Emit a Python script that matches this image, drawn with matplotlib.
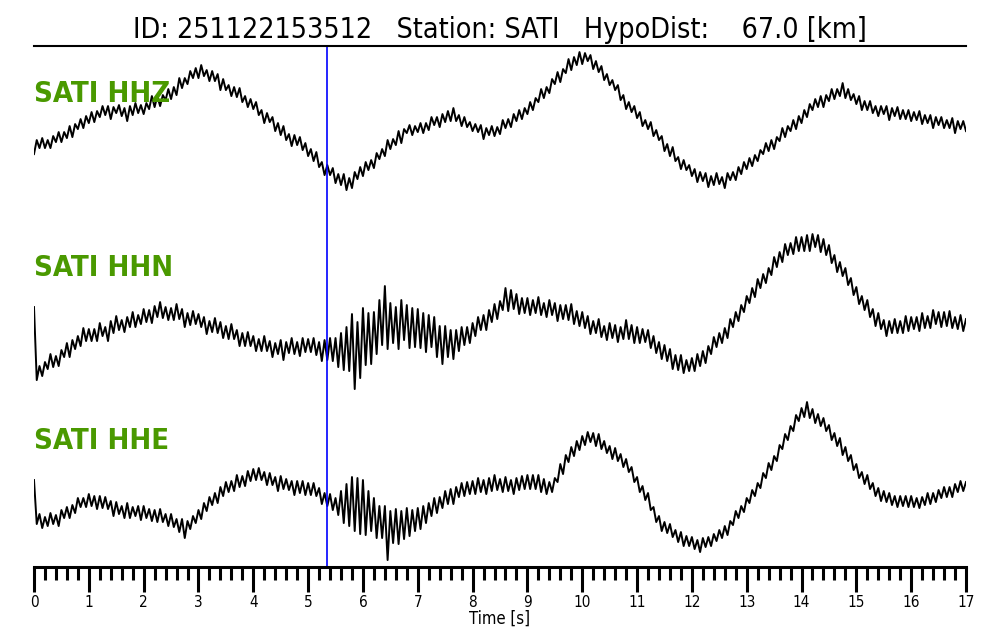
import matplotlib
matplotlib.use("Agg")
import matplotlib.pyplot as plt
import numpy as np
from matplotlib.ticker import MultipleLocator

# event info
event_id = "251122153512"
station = "SATI"
hypodist = 67.0
pick_time = 5.35  # blue marker [s]
dt = 0.05  # read-off sampling [s]

# traces (arbitrary counts, up = positive), one row per second
hhz = [-24, -10, -18, -8, -18, -10, -18, -6, -12, -2, -12, -2, -8, 4, -7, 6, 1, 11, 2, 14,
       7, 18, 8, 19, 13, 24, 15, 24, 11, 23, 17, 25, 14, 22, 9, 24, 15, 27, 17, 25,
       16, 27, 21, 34, 23, 34, 24, 35, 30, 41, 31, 43, 35, 52, 42, 52, 46, 59, 52, 62,
       52, 65, 54, 60, 49, 59, 49, 56, 40, 51, 40, 45, 34, 43, 33, 42, 28, 34, 23, 31,
       21, 28, 15, 20, 7, 17, 8, 13, -1, 7, -5, 4, -10, -4, -16, -5, -15, -7, -20, -13,
       -26, -19, -31, -22, -37, -32, -45, -35, -45, -38, -53, -44, -55, -44, -60, -48, -58, -42, -49, -37,
       -46, -32, -40, -30, -38, -23, -29, -19, -26, -10, -19, -9, -15, -1, -13, 1, -3, 5, -5, 4,
       -2, 7, -3, 7, 0, 13, 5, 13, 3, 16, 8, 19, 9, 22, 9, 15, 4, 13, 3, 8,
       -1, 6, -2, 5, -9, 2, -5, 4, -6, 3, -4, 10, 2, 11, 3, 16, 9, 20, 11, 22,
       16, 28, 20, 32, 28, 41, 32, 43, 37, 51, 46, 58, 48, 61, 57, 71, 60, 73, 65, 78,
       66, 77, 69, 75, 61, 69, 58, 64, 50, 56, 45, 50, 40, 45, 30, 35, 21, 28, 18, 24,
       12, 18, 4, 10, 1, 8, -6, 0, -10, -6, -21, -14, -26, -17, -31, -27, -39, -30, -40, -35,
       -46, -39, -52, -42, -51, -43, -57, -46, -55, -43, -54, -47, -58, -43, -50, -42, -50, -37, -44, -32,
       -39, -28, -36, -25, -31, -20, -24, -13, -21, -10, -19, -7, -11, 2, -7, 4, -1, 10, 1, 14,
       7, 20, 13, 26, 20, 31, 23, 34, 23, 35, 29, 41, 31, 41, 34, 47, 32, 41, 30, 36,
       26, 34, 20, 29, 20, 29, 17, 24, 14, 24, 16, 24, 10, 22, 14, 23, 11, 20, 11, 20,
       9, 18, 10, 19, 6, 15, 7, 15, 2, 13, 5, 13, 2, 10, 2, 12, -3, 9, 1, 9,
       -1]

hhn = [3, -70, -56, -66, -52, -59, -44, -57, -46, -56, -40, -47, -33, -47, -30, -39, -26, -36, -18, -31,
       -19, -31, -19, -31, -13, -26, -17, -31, -11, -23, -6, -20, -10, -22, -7, -17, -2, -17, -5, -14,
       1, -12, 0, -13, 4, -7, 8, -8, 3, -10, 2, -10, 6, -9, 1, -17, -3, -15, -1, -14,
       -4, -17, -7, -24, -11, -22, -8, -23, -12, -28, -16, -29, -14, -29, -20, -36, -23, -36, -22, -36,
       -26, -41, -29, -41, -26, -41, -31, -47, -33, -44, -30, -50, -32, -43, -28, -44, -32, -46, -28, -42,
       -29, -42, -28, -45, -32, -51, -30, -50, -28, -51, -28, -57, -23, -60, -17, -61, -4, -79, -12, -68,
       2, -55, -3, -54, -2, -44, 10, -35, 24, -39, 7, -33, 3, -39, 10, -30, 5, -38, 2, -37,
       1, -38, -3, -42, -5, -37, -7, -47, -16, -54, -16, -47, -20, -49, -20, -41, -17, -35, -17, -33,
       -13, -26, -7, -20, -5, -20, 0, -12, 6, -9, 9, 0, 22, -1, 20, 1, 16, -4, 12, -3,
       12, -5, 10, -3, 13, -5, 7, -7, 10, -5, 7, -11, 5, -9, 5, -10, 6, -14, -1, -16,
       -2, -18, -6, -24, -11, -23, -9, -27, -16, -30, -13, -28, -15, -32, -17, -29, -10, -29, -15, -33,
       -17, -33, -19, -32, -20, -38, -26, -43, -32, -49, -35, -51, -39, -59, -45, -60, -45, -63, -50, -61,
       -48, -61, -44, -56, -41, -53, -36, -44, -27, -37, -23, -33, -18, -28, -9, -17, -2, -11, 5, -2,
       14, 7, 22, 13, 31, 22, 36, 27, 42, 35, 53, 43, 58, 48, 66, 55, 67, 56, 73, 59,
       73, 59, 75, 59, 76, 63, 75, 58, 71, 55, 65, 47, 55, 38, 48, 34, 42, 25, 32, 15,
       23, 6, 14, 0, 10, -7, 1, -16, -3, -19, -10, -26, -11, -23, -9, -23, -11, -23, -6, -21,
       -7, -19, -7, -21, -3, -18, -6, -18, 0, -14, -2, -17, -2, -16, -1, -18, -7, -19, -5, -21,
       -9]

hhe = [5, -39, -29, -43, -32, -41, -28, -39, -30, -41, -25, -33, -22, -33, -20, -28, -13, -22, -13, -22,
       -9, -21, -11, -24, -11, -23, -12, -24, -16, -31, -17, -29, -21, -33, -18, -33, -22, -31, -21, -35,
       -21, -33, -24, -36, -25, -37, -24, -37, -29, -41, -29, -42, -34, -47, -34, -53, -36, -44, -31, -38,
       -25, -34, -18, -26, -12, -20, -8, -18, -2, -11, 3, -7, 4, -6, 10, -2, 9, -1, 14, 4,
       16, 5, 17, 5, 13, 0, 12, 0, 8, -6, 9, -4, 6, -5, 4, -10, 4, -8, 4, -10,
       2, -10, 2, -11, -3, -19, -8, -21, -9, -25, -13, -30, -6, -38, 1, -41, 8, -46, 7, -49,
       5, -50, -6, -46, -13, -53, -21, -53, -21, -75, -26, -58, -24, -59, -26, -54, -23, -51, -25, -46,
       -23, -44, -21, -38, -18, -31, -13, -28, -12, -23, -6, -19, -4, -19, -2, -12, 2, -11, 3, -9,
       4, -9, 7, -7, 5, -9, 7, -6, 10, -5, 6, -7, 8, -6, 5, -9, 7, -5, 9, -4,
       10, -4, 10, -4, 10, -7, 6, -9, 3, -7, 7, 3, 21, 11, 30, 23, 38, 29, 44, 35,
       49, 40, 53, 43, 52, 39, 51, 36, 44, 32, 39, 26, 37, 24, 31, 18, 26, 13, 18, 3,
       8, -7, -1, -15, -8, -25, -22, -37, -31, -46, -37, -48, -39, -52, -45, -57, -47, -61, -51, -61,
       -52, -64, -55, -67, -53, -62, -52, -61, -49, -56, -45, -53, -41, -50, -36, -40, -26, -33, -21, -27,
       -13, -18, -5, -11, 2, -3, 12, 7, 22, 15, 29, 24, 40, 36, 51, 45, 59, 54, 70, 64,
       77, 68, 83, 67, 76, 62, 71, 59, 67, 54, 60, 45, 52, 39, 47, 30, 38, 24, 30, 15,
       21, 7, 13, 1, 10, -4, 2, -11, -3, -16, -6, -17, -8, -20, -11, -22, -11, -21, -11, -22,
       -11, -22, -13, -23, -12, -20, -8, -19, -8, -17, -5, -13, -2, -12, -2, -12, 1, -7, 4, -6,
       3]

channels = ["HHZ", "HHN", "HHE"]
traces = [hhz, hhn, hhe]
offsets = [437, 257, 82]
label_y = [465, 291, 118]

plt.rcParams["font.family"] = "DejaVu Sans"

fig = plt.figure(figsize=(10, 6.4), dpi=100)
ax = fig.add_axes([0.034, 0.114, 0.932, 0.814])

for tr, off, ch, ly in zip(traces, offsets, channels, label_y):
    t = np.arange(len(tr)) * dt
    ax.plot(t, np.array(tr) + off, color="black", lw=1.4)
    ax.text(0, ly, f"{station} {ch}", color="#4a9900", fontsize=21,
            fontweight="bold", fontstretch="condensed", va="baseline", ha="left")

ax.axvline(pick_time, color="blue", lw=1.2)

ax.set_xlim(0, 17)
ax.set_ylim(0, 521)

for s in ["left", "right"]:
    ax.spines[s].set_visible(False)
ax.spines["top"].set_linewidth(1.5)
ax.spines["bottom"].set_linewidth(2.2)
ax.set_yticks([])

ax.xaxis.set_major_locator(MultipleLocator(1))
ax.xaxis.set_minor_locator(MultipleLocator(0.2))
ax.tick_params(axis="x", which="major", length=18, width=2.2, labelsize=11,
               pad=2)
ax.tick_params(axis="x", which="minor", length=9.5, width=2.2)
for lab in ax.get_xticklabels():
    lab.set_fontstretch("condensed")

ax.set_xlabel("Time [s]", fontsize=12, labelpad=0, fontstretch="condensed")
ax.set_title(f"ID: {event_id}   Station: {station}   HypoDist:    {hypodist:.1f} [km]",
             fontsize=20.5, pad=6, fontstretch="condensed")

fig.savefig("out.png", dpi=100)
